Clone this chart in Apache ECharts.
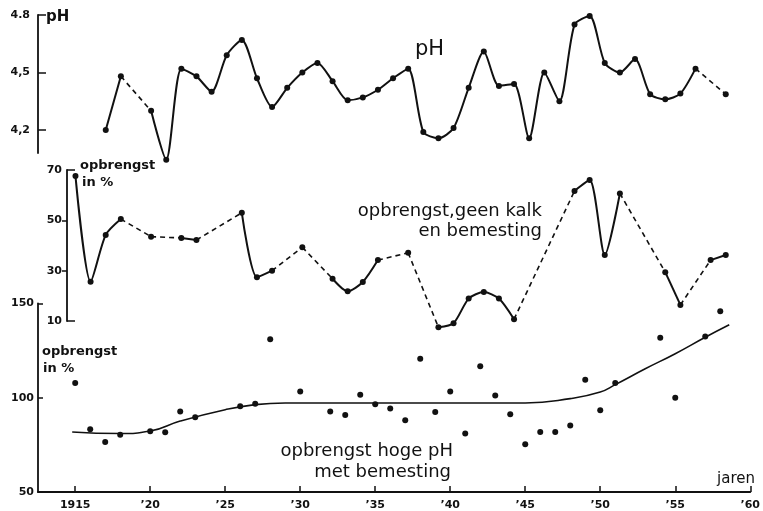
<!DOCTYPE html>
<html>
<head>
<meta charset="utf-8">
<script src="https://cdn.jsdelivr.net/npm/echarts@6/dist/echarts.min.js"></script>
<style>html,body{margin:0;padding:0;background:#fff}#c{width:763px;height:511px}</style>
</head>
<body>
<div id="c"></div>
<script>
// ---- data ----
const phYears = [1917,1918,1920,1921,1922,1923,1924,1925,1926,1927,1928,1929,1930,1931,1932,1933,1934,1935,1936,1937,1938,1939,1940,1941,1942,1943,1944,1945,1946,1947,1948,1949,1950,1951,1952,1953,1954,1955,1956,1958];
const phValues = [4.20,4.48,4.30,4.045,4.52,4.48,4.40,4.59,4.67,4.47,4.32,4.42,4.50,4.55,4.455,4.355,4.37,4.41,4.47,4.52,4.19,4.157,4.21,4.42,4.61,4.43,4.44,4.157,4.50,4.35,4.75,4.795,4.55,4.50,4.57,4.387,4.36,4.39,4.52,4.387];
const phDashedFrom = [1918,1956];

const yieldYears = [1915,1916,1917,1918,1920,1922,1923,1926,1927,1928,1930,1932,1933,1934,1935,1937,1939,1940,1941,1942,1943,1944,1948,1949,1950,1951,1954,1955,1957,1958];
const yieldValues = [67.6,25.6,44.2,50.5,43.5,43.0,42.2,53.0,27.4,30.0,39.3,26.8,21.8,25.5,34.2,37.1,7.5,9.1,18.9,21.5,18.9,10.7,61.7,66.0,36.2,60.7,29.4,16.4,34.2,36.2];
const yieldDashedFrom = [1918,1920,1923,1928,1930,1935,1937,1944,1951,1955];

const highYears = [1915,1916,1917,1918,1920,1921,1922,1923,1926,1927,1928,1930,1932,1933,1934,1935,1936,1937,1938,1939,1940,1941,1942,1943,1944,1945,1946,1947,1948,1949,1950,1951,1954,1955,1957,1958];
const highValues = [107.7,83.2,76.5,80.4,82.2,81.6,92.6,89.6,95.4,96.8,131.0,103.3,92.6,90.8,101.6,96.5,94.2,88.0,120.6,92.4,103.3,81.0,116.6,101.2,91.2,75.3,81.8,81.8,85.3,109.5,93.3,107.7,131.7,100.0,132.4,145.8];

const trendYears = [1914.8,1918,1920,1922,1925,1927,1929,1935,1940,1945,1948,1950,1951,1953,1955,1957,1958.6];
const trendValues = [81.8,81.0,82.3,87.6,93.6,96.3,97.2,97.2,97.2,97.2,99.5,103.0,106.9,115.3,123.3,132.0,138.6];

const xTickYears = [1915,1920,1925,1930,1935,1940,1945,1950,1955,1960];
const phTicks = [4.2,4.5,4.8];
const phTickLabels = {'4.2':'4,2','4.5':'4,5','4.8':'4.8'};
const yieldTicksIn = [10,70];
const yieldTicksOut = [30,50];
const highTicks = [50,100,150];

// ---- build ----
const INK = '#111';
function buildSeries(years, values, dashedFrom, xi, yi, smooth) {
  const out = [];
  let run = [[years[0], values[0]]];
  const flush = () => {
    out.push({type:'line', xAxisIndex:xi, yAxisIndex:yi, data:run, smooth:smooth,
      symbol:'circle', symbolSize:6, showSymbol:true, clip:false,
      itemStyle:{color:INK, opacity:1}, lineStyle:{color:INK, width:2}, z:3});
  };
  for (let i = 0; i < years.length - 1; i++) {
    const p = [years[i], values[i]], q = [years[i+1], values[i+1]];
    if (dashedFrom.includes(years[i])) {
      flush();
      out.push({type:'line', xAxisIndex:xi, yAxisIndex:yi, data:[p,q], showSymbol:false, clip:false,
        lineStyle:{color:INK, width:1.6, type:[5,4]}, z:2});
      run = [q];
    } else {
      run.push(q);
    }
  }
  flush();
  return out;
}

const X0 = 1912.52, X0mid = 1914.44, X1 = 1960;
const labelFont = {color:INK, fontFamily:'DejaVu Sans', fontWeight:'bold', fontSize:11};

const series = [
  ...buildSeries(phYears, phValues, phDashedFrom, 0, 0, 0.25),
  ...buildSeries(yieldYears, yieldValues, yieldDashedFrom, 1, 1, 0.25),
  {type:'scatter', xAxisIndex:2, yAxisIndex:3, data:highYears.map((y,i)=>[y,highValues[i]]),
    symbol:'circle', symbolSize:6, itemStyle:{color:INK, opacity:1}, z:3},
  {type:'line', xAxisIndex:2, yAxisIndex:3, data:trendYears.map((y,i)=>[y,trendValues[i]]),
    smooth:0.5, showSymbol:false, lineStyle:{color:INK, width:1.6}, z:2}
];

function txt(text, x, y, size, align, weight) {
  return {type:'text', x:x, y:y, style:{text:text, fill:INK, font:(weight||'normal')+' '+size+'px "DejaVu Sans"', textAlign:align||'left', textVerticalAlign:'middle'}};
}

const option = {
  animation:false,
  backgroundColor:'#fff',
  grid:[
    {left:38, right:7, top:15, height:138},
    {left:67, right:7, top:170, height:151},
    {left:38, right:7, top:303.3, height:189}
  ],
  xAxis:[
    {type:'value', gridIndex:0, min:X0, max:X1, show:false},
    {type:'value', gridIndex:1, min:X0mid, max:X1, show:false},
    {type:'value', gridIndex:2, min:X0, max:X1, splitLine:{show:false},
      axisLine:{show:true, lineStyle:{color:INK, width:1.8}},
      axisTick:{show:true, inside:true, length:6, customValues:xTickYears, lineStyle:{color:INK, width:1.5}},
      axisLabel:{...labelFont, fontSize:11, margin:8, customValues:xTickYears,
        formatter:v => v === 1915 ? '1915' : '\u2019' + String(v - 1900)}}
  ],
  yAxis:[
    {type:'value', gridIndex:0, min:4.08, max:4.8, splitLine:{show:false},
      axisLine:{show:true, lineStyle:{color:INK, width:1.8}},
      axisTick:{show:true, inside:true, length:8, customValues:phTicks, lineStyle:{color:INK, width:1.5}},
      axisLabel:{...labelFont, margin:8, customValues:phTicks, formatter:v => phTickLabels[v.toFixed(1)]}},
    {type:'value', gridIndex:1, min:10, max:70, splitLine:{show:false},
      axisLine:{show:true, lineStyle:{color:INK, width:1.8}},
      axisTick:{show:true, inside:true, length:8, customValues:yieldTicksIn, lineStyle:{color:INK, width:1.5}},
      axisLabel:{...labelFont, margin:5, customValues:[10,30,50,70]}},
    {type:'value', gridIndex:1, min:10, max:70, position:'left', splitLine:{show:false},
      axisLine:{show:false},
      axisTick:{show:true, inside:false, length:5, customValues:yieldTicksOut, lineStyle:{color:INK, width:1.5}},
      axisLabel:{show:false}},
    {type:'value', gridIndex:2, min:50, max:150, interval:50, splitLine:{show:false},
      axisLine:{show:true, lineStyle:{color:INK, width:1.8}},
      axisTick:{show:true, inside:true, length:5, customValues:highTicks, lineStyle:{color:INK, width:1.5}},
      axisLabel:{...labelFont, margin:4}}
  ],
  series:series,
  graphic:[
    txt('pH', 46, 17, 15, 'left', 'bold'),
    txt('pH', 415, 50, 21, 'left'),
    txt('opbrengst', 80, 166, 13, 'left', 'bold'),
    txt('in %', 82, 183, 13, 'left', 'bold'),
    txt('opbrengst,geen kalk', 542, 211, 18, 'right'),
    txt('en bemesting', 542, 231, 18, 'right'),
    txt('opbrengst', 42, 352, 13, 'left', 'bold'),
    txt('in %', 43, 369, 13, 'left', 'bold'),
    txt('opbrengst hoge pH', 453, 451, 18, 'right'),
    txt('met bemesting', 451, 472, 18, 'right'),
    txt('jaren', 755, 479, 15, 'right')
  ]
};
echarts.init(document.getElementById('c'), null, {renderer:'canvas'}).setOption(option);
</script>
</body>
</html>
